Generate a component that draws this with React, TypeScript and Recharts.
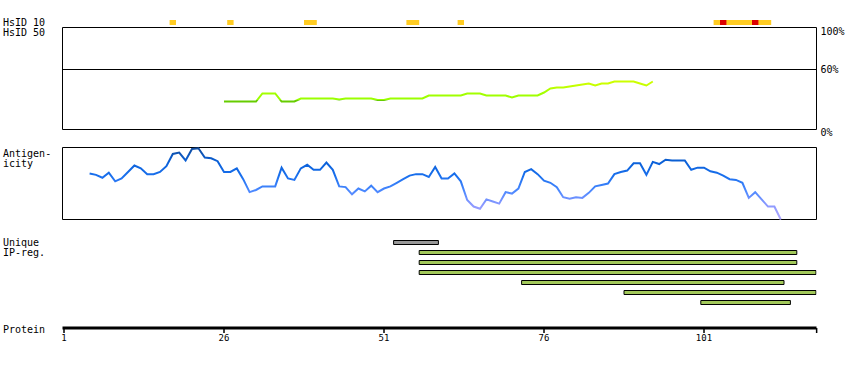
import React from 'react';
import {
  ComposedChart,
  LineChart,
  Line,
  BarChart,
  Bar,
  Cell,
  XAxis,
  YAxis,
  ReferenceArea,
  ReferenceLine,
} from 'recharts';

// ---------------- data ----------------
const proteinLength = 118;
const proteinTicks = [1, 26, 51, 76, 101];
const proteinAxisEnd = 118.6;

// HsID 10 markers: residue ranges [start, end]
const hsid10Orange: [number, number][] = [
  [18, 18],
  [27, 27],
  [39, 40],
  [55, 56],
  [63, 63],
  [103, 111],
];
const hsid10Red: number[] = [104, 109];

// HsID 50 identity (%) from residue 26
const hsid50Start = 26;
const hsid50Values = [
  28, 28, 28, 28, 28, 28, 36, 36, 36, 28,
  28, 28, 31, 31, 31, 31, 31, 31, 30, 31,
  31, 31, 31, 31, 29.5, 29.5, 31, 31, 31, 31,
  31, 31, 34, 34, 34, 34, 34, 34, 36, 36,
  36, 34, 34, 34, 34, 32, 34, 34, 34, 34,
  37, 41, 42, 42, 43, 44, 45, 46, 44, 46,
  46, 48, 48, 48, 48, 46, 44, 48,
];
const hsidTicks = [0, 60, 100];

// Antigenicity from residue 5
const antigenStart = 5;
const antigenValues = [
  64, 62, 58, 65, 53, 57, 66, 75, 71, 63,
  63, 66, 74, 91, 93, 82, 98, 99, 86, 85,
  81, 66, 66, 71, 56, 38, 41, 46, 46, 46,
  72, 57, 55, 71, 76, 69, 69, 79, 69, 46,
  45, 35, 43, 39, 47, 38, 43, 46, 51, 56,
  61, 63, 63, 59, 73, 57, 57, 64, 53, 27,
  18, 15, 28, 25, 22, 38, 36, 43, 66, 70,
  63, 54, 51, 45, 31, 29, 31, 30, 37, 46,
  48, 50, 63, 66, 68, 78, 78, 62, 80, 77,
  83, 82, 82, 82, 69, 72, 72, 67, 65, 61,
  56, 55, 51, 30, 38, 28, 18, 18, 0,
];

// Unique IP-regions
const ipRegStart = [53, 57, 57, 57, 73, 89, 101];
const ipRegEnd = [59, 115, 115, 118, 113, 118, 114];
const ipRegKind = ['other', 'prest', 'prest', 'prest', 'prest', 'prest', 'prest'];

// ---------------- layout ----------------
const FONT = '"DejaVu Sans Mono", monospace';
const W = 850;
const PX_PER_RES = 6.4;
const PLOT_LEFT = 62.5;
const PLOT_W = 754;
const RIGHT = W - PLOT_LEFT - PLOT_W;
const X0 = 1 - 1.5 / PX_PER_RES;
const X1 = X0 + PLOT_W / PX_PER_RES;
// marker strip sits above the HsID 50 box (y-units of that panel, 1px per unit)
const MARK_LO = 104.5;
const MARK_HI = 109.5;

const hsidData = hsid50Values.map((v, i) => ({ r: hsid50Start + i, v }));
const antigenData = antigenValues.map((v, i) => ({ r: antigenStart + i, v }));
const ipData = ipRegStart.map((s, i) => ({
  row: i,
  range: [s - 0.5, ipRegEnd[i] + 0.5],
  kind: ipRegKind[i],
}));
const axisData = proteinTicks.map((t) => ({ r: t }));

const HsidTick = (props: any) => {
  const { x, y, payload } = props;
  const dy = payload.value === 100 ? 2 : payload.value === 0 ? 3 : 0;
  return (
    <text
      x={x + 2}
      y={y + dy}
      dy="0.35em"
      textAnchor="start"
      fontFamily={FONT}
      fontSize={10}
      fill="#000"
    >
      {payload.value + '%'}
    </text>
  );
};

const labelStyle = (top: number): React.CSSProperties => ({
  position: 'absolute',
  left: 3,
  top,
  fontFamily: FONT,
  fontSize: 10,
  lineHeight: '10px',
  color: '#000',
  whiteSpace: 'nowrap',
});

const layer: React.CSSProperties = { position: 'absolute', left: 0, top: 0 };

export default function App() {
  return (
    <div
      style={{
        position: 'absolute',
        left: 0,
        top: 0,
        width: W,
        height: 370,
        background: '#fff',
        overflow: 'hidden',
      }}
    >
      {/* HsID 10 markers + HsID 50 panel */}
      <div style={layer}>
        <LineChart
          width={W}
          height={140}
          data={hsidData}
          margin={{ top: 27.5, right: 0, bottom: 10.5, left: PLOT_LEFT }}
        >
          <defs>
            <linearGradient id="hsidGrad" gradientUnits="userSpaceOnUse" x1="0" y1="129.5" x2="0" y2="27.5">
              <stop offset="0" stopColor="#66cc00" />
              <stop offset="0.292" stopColor="#66cc00" />
              <stop offset="0.292" stopColor="#99ff00" />
              <stop offset="0.37" stopColor="#a6ff00" />
              <stop offset="0.41" stopColor="#bbff00" />
              <stop offset="0.45" stopColor="#ccff00" />
              <stop offset="1" stopColor="#ccff00" />
            </linearGradient>
          </defs>
          <XAxis type="number" dataKey="r" domain={[X0, X1]} hide allowDataOverflow />
          <YAxis
            type="number"
            orientation="right"
            width={RIGHT}
            domain={[0, 102]}
            allowDataOverflow
            ticks={hsidTicks}
            interval={0}
            axisLine={false}
            tickLine={false}
            tickSize={0}
            tick={<HsidTick />}
          />
          {hsid10Orange.map(([s, e]) => (
            <ReferenceArea
              key={'o' + s}
              x1={s - 0.5}
              x2={e + 0.5}
              y1={MARK_LO}
              y2={MARK_HI}
              fill="#ffcc22"
              fillOpacity={1}
              stroke="none"
              ifOverflow="visible"
            />
          ))}
          {hsid10Red.map((r) => (
            <ReferenceArea
              key={'r' + r}
              x1={r - 0.5}
              x2={r + 0.5}
              y1={MARK_LO}
              y2={MARK_HI}
              fill="#dd0000"
              fillOpacity={1}
              stroke="none"
              ifOverflow="visible"
            />
          ))}
          <ReferenceArea
            x1={X0}
            x2={X1}
            y1={0}
            y2={102}
            fill="none"
            stroke="#000"
            strokeWidth={1}
            ifOverflow="visible"
          />
          <ReferenceLine y={60} stroke="#000" strokeWidth={1} />
          <Line
            type="linear"
            dataKey="v"
            stroke="url(#hsidGrad)"
            strokeWidth={2}
            dot={false}
            activeDot={false}
            isAnimationActive={false}
          />
        </LineChart>
      </div>

      {/* Antigenicity panel */}
      <div style={layer}>
        <LineChart
          width={W}
          height={230}
          data={antigenData}
          margin={{ top: 147.5, right: RIGHT, bottom: 10.5, left: PLOT_LEFT }}
        >
          <defs>
            <linearGradient id="agGrad" gradientUnits="userSpaceOnUse" x1="0" y1="219.5" x2="0" y2="147.5">
              <stop offset="0" stopColor="#b0a8ff" />
              <stop offset="0.2" stopColor="#8c99ff" />
              <stop offset="0.4" stopColor="#4a88ff" />
              <stop offset="0.6" stopColor="#1a70ee" />
              <stop offset="0.8" stopColor="#0a60d8" />
              <stop offset="1" stopColor="#124c9c" />
            </linearGradient>
          </defs>
          <XAxis type="number" dataKey="r" domain={[X0, X1]} hide allowDataOverflow />
          <YAxis type="number" domain={[0, 100]} hide />
          <ReferenceArea
            x1={X0}
            x2={X1}
            y1={0}
            y2={100}
            fill="none"
            stroke="#000"
            strokeWidth={1}
            ifOverflow="visible"
          />
          <Line
            type="linear"
            dataKey="v"
            stroke="url(#agGrad)"
            strokeWidth={2}
            dot={false}
            activeDot={false}
            isAnimationActive={false}
          />
        </LineChart>
      </div>

      {/* Unique IP-regions */}
      <div style={layer}>
        <BarChart
          width={W}
          height={310}
          data={ipData}
          layout="vertical"
          margin={{ top: 237.5, right: RIGHT, bottom: 2.5, left: PLOT_LEFT }}
        >
          <XAxis type="number" domain={[X0, X1]} hide allowDataOverflow />
          <YAxis type="category" dataKey="row" hide />
          <Bar dataKey="range" barSize={4} stroke="#000" strokeWidth={1} isAnimationActive={false}>
            {ipData.map((d) => (
              <Cell key={d.row} fill={d.kind === 'other' ? '#999999' : '#a2c85a'} />
            ))}
          </Bar>
        </BarChart>
      </div>

      {/* Protein axis */}
      <div style={layer}>
        <ComposedChart
          width={W}
          height={358}
          data={axisData}
          margin={{ top: 320, right: RIGHT, bottom: 0, left: PLOT_LEFT }}
        >
          <XAxis
            type="number"
            dataKey="r"
            domain={[X0, X1]}
            allowDataOverflow
            height={30}
            ticks={[...proteinTicks, proteinAxisEnd]}
            interval={0}
            tickFormatter={(v: number) => (v > proteinLength ? '' : String(v))}
            axisLine={{ stroke: '#000', strokeWidth: 3 }}
            tickLine={{ stroke: '#000', strokeWidth: 1.5 }}
            tickSize={5}
            tickMargin={2}
            tick={{ fontFamily: FONT, fontSize: 9, fill: '#000' }}
          />
          <YAxis type="number" domain={[0, 1]} hide />
        </ComposedChart>
      </div>

      {/* Left labels */}
      <div style={labelStyle(17.5)}>HsID 10</div>
      <div style={labelStyle(27.5)}>HsID 50</div>
      <div style={labelStyle(148.5)}>Antigen-</div>
      <div style={labelStyle(158.5)}>icity</div>
      <div style={labelStyle(237.5)}>Unique</div>
      <div style={labelStyle(247.5)}>IP-reg.</div>
      <div style={labelStyle(324.5)}>Protein</div>
    </div>
  );
}
